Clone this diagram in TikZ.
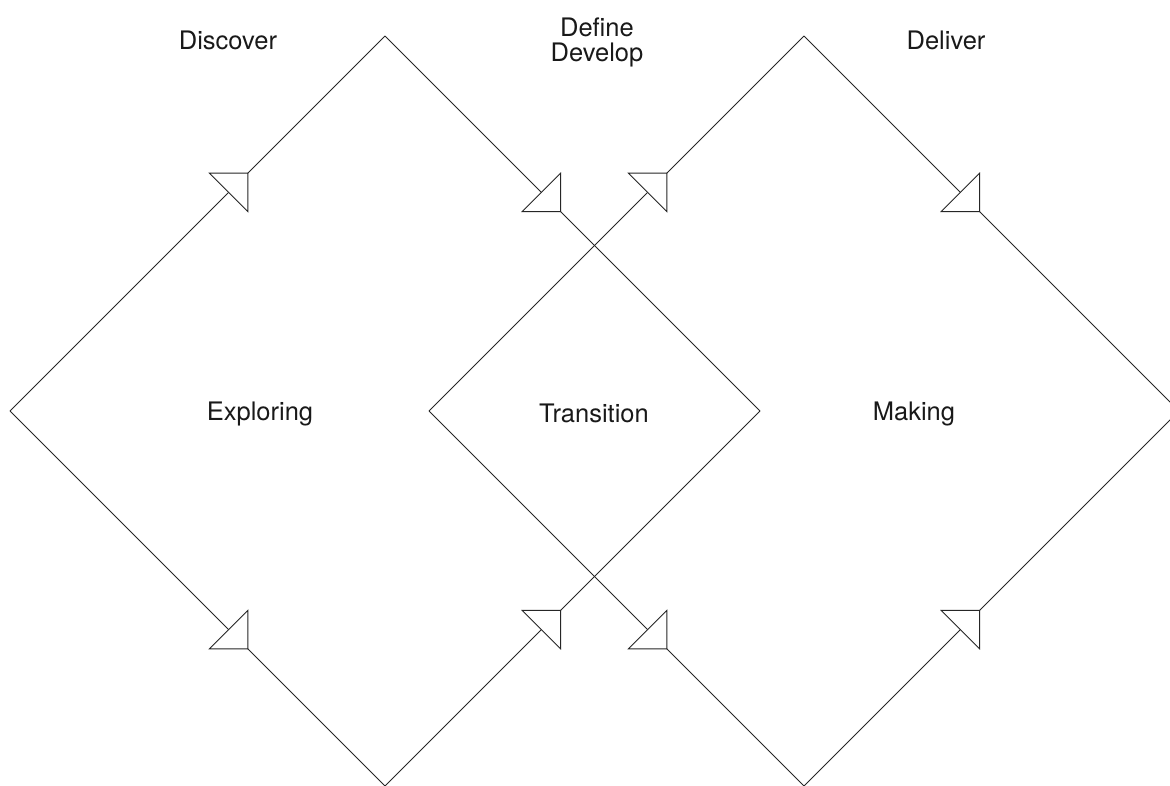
\documentclass[tikz,border=0pt]{standalone}
\usepackage{fontspec}
\setmainfont{TeX Gyre Heros}
\usetikzlibrary{decorations.markings}
\tikzset{
  edge/.style={draw=black!85, line width=0.9pt},
  arrA/.style={postaction={decorate, decoration={markings,
     mark=at position #1 with {\filldraw[draw=black!85, fill=white, line width=0.9pt, line join=miter]
        (0,27.2pt) -- (27.2pt,0) -- (0,-27.2pt) -- cycle;}}}},
  lbl/.style={font=\fontsize{25.5}{30}\selectfont, text=black!90, inner sep=0pt, anchor=base}
}
\begin{document}
\begin{tikzpicture}[x=1pt,y=-1pt]
\useasboundingbox (0,0) rectangle (1170,785);
\clip (0,0) rectangle (1170,785);
% left diamond
\coordinate (L1) at (10,411);
\coordinate (T1) at (385,36);
\coordinate (R1) at (760,411);
\coordinate (B1) at (385,786);
% right diamond
\coordinate (L2) at (429,411);
\coordinate (T2) at (804,36);
\coordinate (R2) at (1179,411);
\coordinate (B2) at (804,786);
\draw[edge, arrA=0.583] (L1) -- (T1);
\draw[edge, arrA=0.583] (L1) -- (B1);
\draw[edge, arrA=0.417] (T1) -- (R1);
\draw[edge, arrA=0.417] (B1) -- (R1);
\draw[edge, arrA=0.583] (L2) -- (T2);
\draw[edge, arrA=0.583] (L2) -- (B2);
\draw[edge, arrA=0.417] (T2) -- (R2);
\draw[edge, arrA=0.417] (B2) -- (R2);
% labels
\node[lbl] (discover) at (228,49) {Discover};
\node[lbl] (define) at (597,36) {Define};
\node[lbl] (develop) at (597,61) {Develop};
\node[lbl] (deliver) at (946,49) {Deliver};
\node[lbl] (exploring) at (260,420) {Exploring};
\node[lbl] (transition) at (594,422) {Transition};
\node[lbl] (making) at (914,420) {Making};
\end{tikzpicture}
\end{document}
